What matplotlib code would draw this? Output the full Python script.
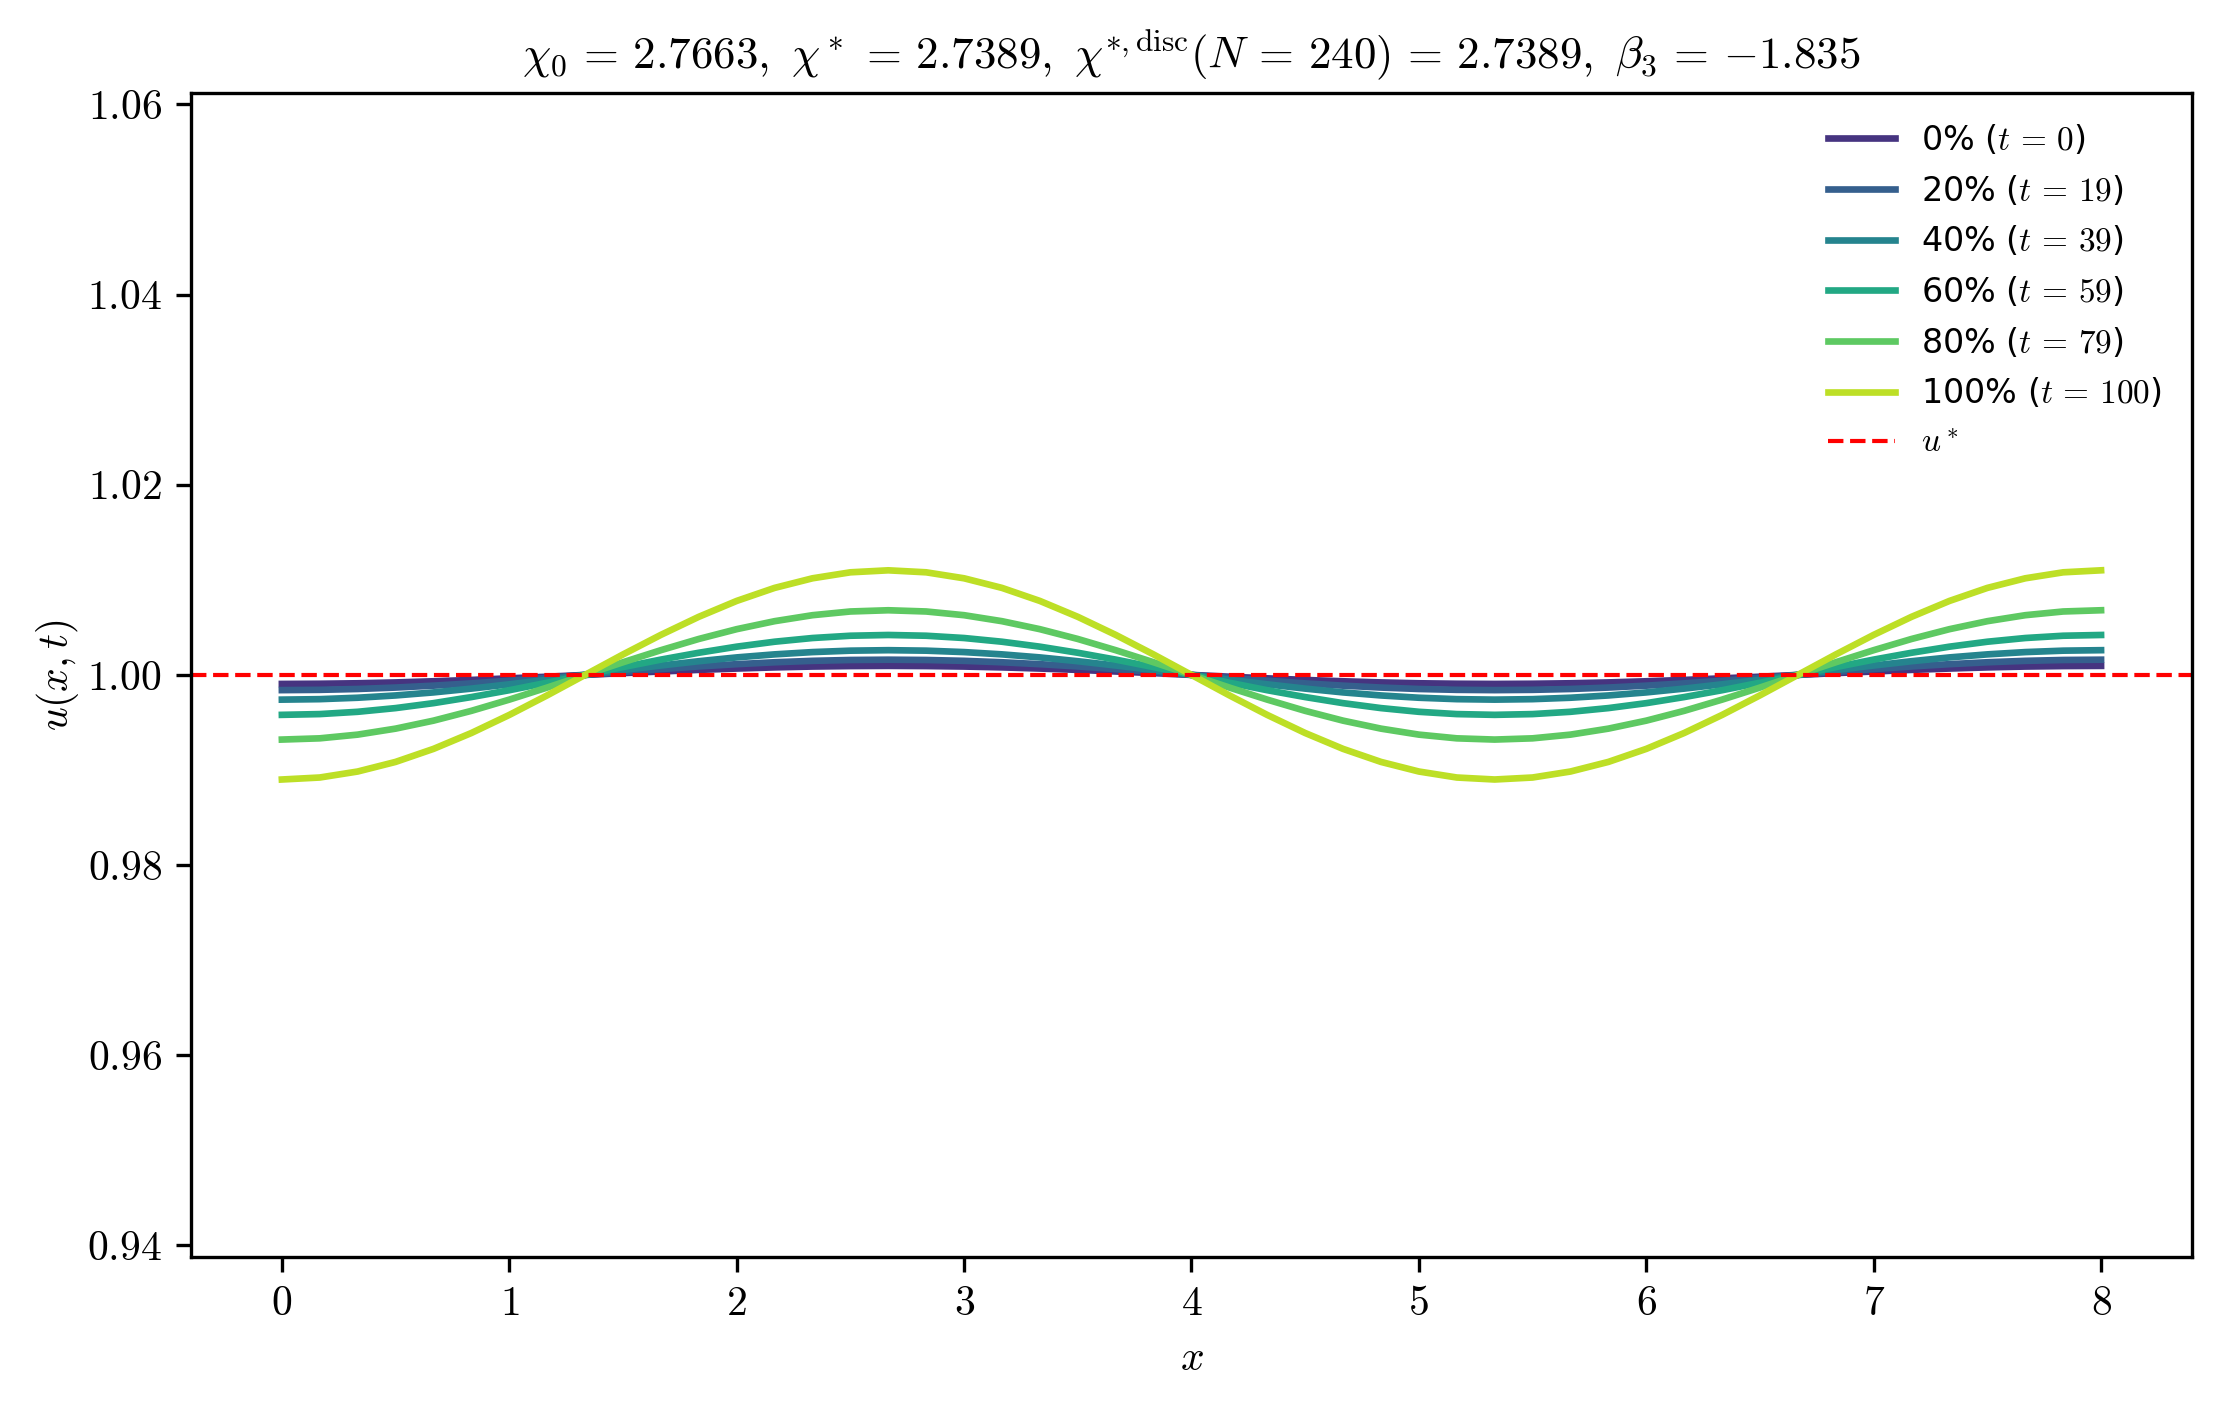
import numpy as np
import matplotlib
matplotlib.use("Agg")
import matplotlib.pyplot as plt

plt.rcParams['font.family'] = 'serif'
plt.rcParams['font.serif'] = ['cmr10', 'DejaVu Serif']
plt.rcParams['mathtext.fontset'] = 'cm'
plt.rcParams['axes.formatter.use_mathtext'] = True

# grid in x (49 samples, 0..8)
x = np.linspace(0, 8, 49)

# u(x,t) at each snapshot
u_0 = [0.99905, 0.99907, 0.99912, 0.99921, 0.99933, 0.99947, 0.99964, 0.99981, 1.00000,
       1.00019, 1.00036, 1.00053, 1.00067, 1.00079, 1.00088, 1.00093, 1.00095,
       1.00093, 1.00088, 1.00079, 1.00067, 1.00053, 1.00036, 1.00019, 1.00000,
       0.99981, 0.99964, 0.99947, 0.99933, 0.99921, 0.99912, 0.99907, 0.99905,
       0.99907, 0.99912, 0.99921, 0.99933, 0.99947, 0.99964, 0.99981, 1.00000,
       1.00019, 1.00036, 1.00053, 1.00067, 1.00079, 1.00088, 1.00093, 1.00095]
u_20 = [0.99840, 0.99843, 0.99852, 0.99867, 0.99887, 0.99911, 0.99939, 0.99969, 1.00000,
        1.00031, 1.00061, 1.00089, 1.00113, 1.00133, 1.00148, 1.00157, 1.00160,
        1.00157, 1.00148, 1.00133, 1.00113, 1.00089, 1.00061, 1.00031, 1.00000,
        0.99969, 0.99939, 0.99911, 0.99887, 0.99867, 0.99852, 0.99843, 0.99840,
        0.99843, 0.99852, 0.99867, 0.99887, 0.99911, 0.99939, 0.99969, 1.00000,
        1.00031, 1.00061, 1.00089, 1.00113, 1.00133, 1.00148, 1.00157, 1.00160]
u_40 = [0.99740, 0.99745, 0.99760, 0.99784, 0.99816, 0.99856, 0.99901, 0.99949, 1.00000,
        1.00051, 1.00099, 1.00144, 1.00184, 1.00216, 1.00240, 1.00255, 1.00260,
        1.00255, 1.00240, 1.00216, 1.00184, 1.00144, 1.00099, 1.00051, 1.00000,
        0.99949, 0.99901, 0.99856, 0.99816, 0.99784, 0.99760, 0.99745, 0.99740,
        0.99745, 0.99760, 0.99784, 0.99816, 0.99856, 0.99901, 0.99949, 1.00000,
        1.00051, 1.00099, 1.00144, 1.00184, 1.00216, 1.00240, 1.00255, 1.00260]
u_60 = [0.99580, 0.99588, 0.99612, 0.99651, 0.99703, 0.99767, 0.99839, 0.99918, 1.00000,
        1.00082, 1.00161, 1.00233, 1.00297, 1.00349, 1.00388, 1.00412, 1.00420,
        1.00412, 1.00388, 1.00349, 1.00297, 1.00233, 1.00161, 1.00082, 1.00000,
        0.99918, 0.99839, 0.99767, 0.99703, 0.99651, 0.99612, 0.99588, 0.99580,
        0.99588, 0.99612, 0.99651, 0.99703, 0.99767, 0.99839, 0.99918, 1.00000,
        1.00082, 1.00161, 1.00233, 1.00297, 1.00349, 1.00388, 1.00412, 1.00420]
u_80 = [0.99320, 0.99333, 0.99372, 0.99435, 0.99519, 0.99622, 0.99740, 0.99867, 1.00000,
        1.00133, 1.00260, 1.00378, 1.00481, 1.00565, 1.00628, 1.00667, 1.00680,
        1.00667, 1.00628, 1.00565, 1.00481, 1.00378, 1.00260, 1.00133, 1.00000,
        0.99867, 0.99740, 0.99622, 0.99519, 0.99435, 0.99372, 0.99333, 0.99320,
        0.99333, 0.99372, 0.99435, 0.99519, 0.99622, 0.99740, 0.99867, 1.00000,
        1.00133, 1.00260, 1.00378, 1.00481, 1.00565, 1.00628, 1.00667, 1.00680]
u_100 = [0.98900, 0.98921, 0.98984, 0.99085, 0.99222, 0.99389, 0.99579, 0.99785, 1.00000,
         1.00215, 1.00421, 1.00611, 1.00778, 1.00915, 1.01016, 1.01079, 1.01100,
         1.01079, 1.01016, 1.00915, 1.00778, 1.00611, 1.00421, 1.00215, 1.00000,
         0.99785, 0.99579, 0.99389, 0.99222, 0.99085, 0.98984, 0.98921, 0.98900,
         0.98921, 0.98984, 0.99085, 0.99222, 0.99389, 0.99579, 0.99785, 1.00000,
         1.00215, 1.00421, 1.00611, 1.00778, 1.00915, 1.01016, 1.01079, 1.01100]

snapshots = [u_0, u_20, u_40, u_60, u_80, u_100]
percents = [0, 20, 40, 60, 80, 100]
times = [0, 19, 39, 59, 79, 100]
u_star = 1.0

fig = plt.figure(figsize=(7.4, 1409 / 300), dpi=300)
ax = fig.add_axes([0.086, 0.108, 0.9014, 0.826])

colors = plt.cm.viridis(np.linspace(0.15, 0.9, len(snapshots)))
for u, p, t, c in zip(snapshots, percents, times, colors):
    ax.plot(x, u, color=c, lw=1.6, label=f"{p}% ($t\\,=\\,{t}$)")
ax.axhline(u_star, color='red', ls='--', lw=1.0, label=r"$u^*$")

ax.set_ylim(0.9388, 1.0612)
ax.set_xlabel(r"$x$", fontsize=10)
ax.set_ylabel(r"$u(x,t)$", fontsize=10, labelpad=1.5)
ax.tick_params(labelsize=10)
ax.set_title(r"$\chi_0\,=\,2.7663,\ \chi^*\,=\,2.7389,\ \chi^{*,\mathrm{disc}}(N\,=\,240)\,=\,2.7389,\ \beta_3\,=\,{-}1.835$",
             fontsize=10.8)
ax.legend(loc='upper right', frameon=False, prop={'family': 'DejaVu Sans', 'size': 8})

fig.savefig("out.png", dpi=300)
